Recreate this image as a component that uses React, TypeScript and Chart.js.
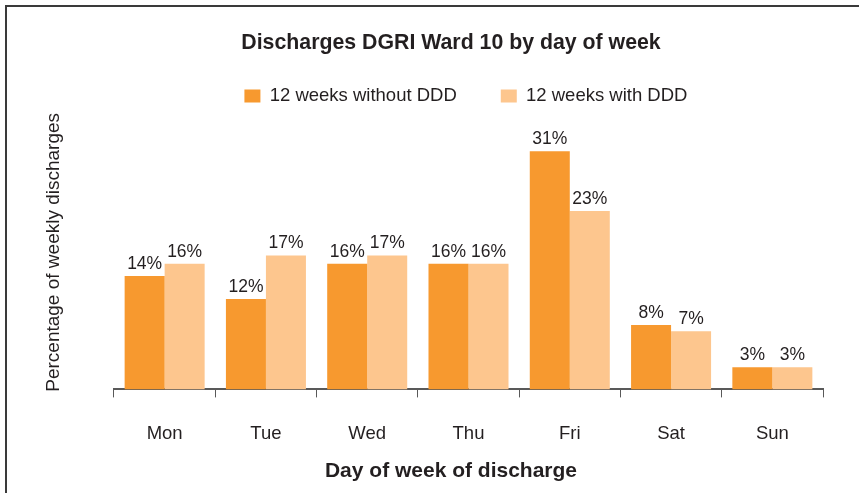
import React, { useEffect, useRef } from "react";
import { Chart, registerables } from "chart.js";

Chart.register(...registerables);

const categories = ["Mon", "Tue", "Wed", "Thu", "Fri", "Sat", "Sun"];
const seriesNames = ["12 weeks without DDD", "12 weeks with DDD"];
const withoutDDD = [14.8, 11.8, 16.4, 16.4, 31.1, 8.4, 2.9];
const withDDD = [16.4, 17.5, 17.5, 16.4, 23.3, 7.6, 2.9];
const withoutLabels = ["14%", "12%", "16%", "16%", "31%", "8%", "3%"];
const withLabels = ["16%", "17%", "17%", "16%", "23%", "7%", "3%"];

const TEXT = "#231f20";
const AXIS = "#595959";
const DARK = "#f7992f";
const LIGHT = "#fdc68e";
const FAMILY = '"Liberation Sans", Arial, Helvetica, sans-serif';

const barLabelPlugin = {
  id: "barLabels",
  afterDatasetsDraw(chart: any) {
    const ctx = chart.ctx;
    const sets = [withoutLabels, withLabels];
    ctx.save();
    ctx.font = `17.5px ${FAMILY}`;
    ctx.fillStyle = TEXT;
    ctx.textAlign = "center";
    ctx.textBaseline = "alphabetic";
    chart.data.datasets.forEach((_ds: any, i: number) => {
      const meta = chart.getDatasetMeta(i);
      meta.data.forEach((el: any, j: number) => {
        ctx.fillText(sets[i][j], el.x, el.y - 7);
      });
    });
    ctx.restore();
  },
};

export default function App() {
  const ref = useRef<HTMLCanvasElement | null>(null);

  useEffect(() => {
    if (!ref.current) return;
    Chart.defaults.font.family = FAMILY;
    const chart = new Chart(ref.current, {
      type: "bar",
      data: {
        labels: categories,
        datasets: [
          {
            label: seriesNames[0],
            data: withoutDDD,
            backgroundColor: DARK,
            borderWidth: 0,
            categoryPercentage: 0.79,
            barPercentage: 1,
          },
          {
            label: seriesNames[1],
            data: withDDD,
            backgroundColor: LIGHT,
            borderWidth: 0,
            categoryPercentage: 0.79,
            barPercentage: 1,
          },
        ],
      },
      options: {
        animation: false,
        responsive: false,
        devicePixelRatio: 1,
        layout: { padding: 0 },
        plugins: {
          title: {
            display: true,
            text: "Discharges DGRI Ward 10 by day of week",
            color: TEXT,
            font: { size: 21.3, weight: "bold", family: FAMILY },
            padding: { top: 30.4, bottom: 22.8 },
          },
          subtitle: {
            display: true,
            position: "bottom",
            text: "Day of week of discharge",
            color: TEXT,
            font: { size: 21, weight: "bold", family: FAMILY },
            padding: { top: 0, bottom: 9.4 },
          },
          legend: {
            display: true,
            position: "top",
            fullSize: false,
            labels: {
              color: TEXT,
              font: { size: 18.5, family: FAMILY },
              boxWidth: 16,
              boxHeight: 13,
              padding: 8,
              generateLabels: (chart: any) => {
                const items = Chart.defaults.plugins.legend.labels.generateLabels(chart);
                items.forEach((it: any, i: number) => {
                  it.text = it.text + (i === 0 ? "       " : " ");
                  it.lineWidth = 0;
                });
                return items;
              },
            },
          },
          tooltip: { enabled: false },
        },
        scales: {
          x: {
            position: "bottom",
            offset: true,
            grid: {
              display: true,
              drawOnChartArea: false,
              drawTicks: true,
              tickLength: 8,
              color: AXIS,
              lineWidth: 1,
              offset: true,
            },
            border: { display: true, color: AXIS, width: 2 },
            ticks: {
              color: TEXT,
              font: { size: 18.5, family: FAMILY },
              padding: 25,
              maxRotation: 0,
            },
            afterFit: (scale: any) => {
              scale.height = 69;
            },
          },
          y: {
            position: "left",
            min: 0,
            max: 35.8,
            grid: { display: false },
            border: { display: false },
            ticks: { display: false },
            title: {
              display: true,
              text: "Percentage of weekly discharges",
              color: TEXT,
              font: { size: 19, family: FAMILY },
              padding: 42.6,
            },
            afterFit: (scale: any) => {
              scale.width = 114;
            },
          },
          yRight: {
            type: "linear",
            position: "right",
            display: true,
            grid: { display: false },
            border: { display: false },
            ticks: { display: false },
            afterFit: (scale: any) => {
              scale.width = 79;
            },
          },
        },
      },
      plugins: [barLabelPlugin],
    } as any);
    return () => chart.destroy();
  }, []);

  return (
    <div
      style={{
        position: "fixed",
        left: 0,
        top: 0,
        width: 859,
        height: 493,
        overflow: "hidden",
        background: "#ffffff",
      }}
    >
      <canvas
        ref={ref}
        width={902}
        height={493}
        style={{ position: "absolute", left: 0, top: 0, display: "block" }}
      />
      <div
        style={{
          position: "absolute",
          left: 5,
          top: 5,
          width: 1000,
          height: 1000,
          borderTop: "2px solid #3a3a3a",
          borderLeft: "2px solid #3a3a3a",
          pointerEvents: "none",
        }}
      />
    </div>
  );
}
